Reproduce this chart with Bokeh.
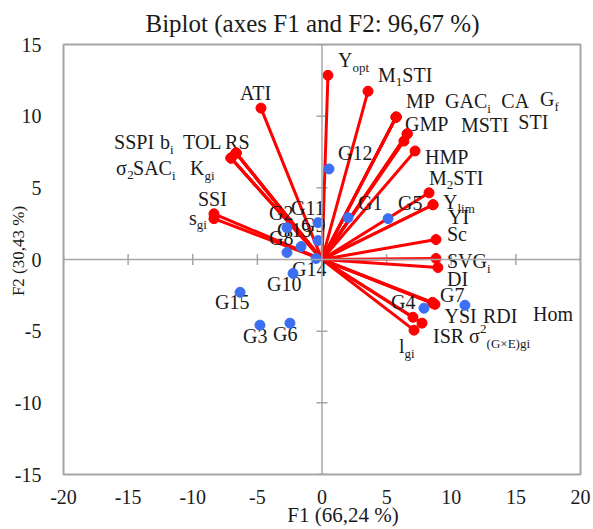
import math
from bokeh.plotting import figure
from bokeh.models import ColumnDataSource, Span, FixedTicker, CustomJSTickFormatter
from bokeh.core.properties import value
from bokeh.embed import file_html
from bokeh.resources import INLINE

FONT = "Liberation Serif"
TEXT_COLOR = "#1a1a1a"
RED = "#FF0000"
BLUE = "#3B6EF0"
GRAY = "#A6A6A6"

TITLE = "Biplot (axes F1 and F2: 96,67 %)"
X_LABEL = "F1 (66,24 %)"
Y_LABEL = "F2 (30,43 %)"
X_TICKS = [-20, -15, -10, -5, 0, 5, 10, 15, 20]
Y_TICKS = [-15, -10, -5, 0, 5, 10, 15]

# ---- variables (red vectors) ----
VAR_X = [0.46, 3.56, 5.73, 5.73, 5.75, 5.73, 6.58, 6.34, 6.60, 7.20, 8.28, 8.59, 8.59,
         8.82, 8.82, 8.97, 8.55, 8.74, 8.59, 7.74, 7.04, 7.12,
         -4.72, -6.65, -6.65, -6.65, -6.65, -7.04, -7.04, -7.04, -8.36, -8.36]
VAR_Y = [12.85, 11.74, 9.93, 9.93, 9.95, 9.93, 8.75, 8.26, 8.78, 7.57, 4.65, 3.82, 3.82,
         1.39, 0.07, -0.56, -2.99, -3.13, -3.06, -4.44, -4.03, -4.93,
         10.56, 7.43, 7.43, 7.43, 7.43, 7.08, 7.08, 7.08, 3.19, 2.85]
# label pieces: (text, kind) kind: "" normal, "sub", "sup"
VAR_LABELS = [
    [("Y", ""), ("opt", "sub")],
    [("M", ""), ("1", "sub"), ("STI", "")],
    [("MP", "")],
    [("GAC", ""), ("i", "sub")],
    [("CA", "")],
    [("G", ""), ("f", "sub")],
    [("GMP", "")],
    [("MSTI", "")],
    [("STI", "")],
    [("HMP", "")],
    [("M", ""), ("2", "sub"), ("STI", "")],
    [("Y", ""), ("lim", "sub")],
    [("YI", "")],
    [("Sc", "")],
    [("SVG", ""), ("i", "sub")],
    [("DI", "")],
    [("YSI", "")],
    [("RDI", "")],
    [("Hom", "")],
    [("ISR", "")],
    [("σ", ""), ("2", "sup"), ("(G×E)gi", "sub")],
    [("l", ""), ("gi", "sub")],
    [("ATI", "")],
    [("SSPI", "")],
    [("b", ""), ("i", "sub")],
    [("TOL", "")],
    [("RS", "")],
    [("σ", ""), ("2", "sub")],
    [("SAC", ""), ("i", "sub")],
    [("K", ""), ("gi", "sub")],
    [("SSI", "")],
    [("s", ""), ("gi", "sub")],
]
# label placement offsets in screen pixels relative to the point (layout only)
VAR_LABEL_OFFSETS = [
    (10, -15), (10, -16), (10, -16), (49, -16), (105, -16), (144, -18), (-2, -10),
    (57, -16), (111, -12), (10, 6), (0, -15), (10, -3), (15, 12), (11, -6), (11, 3),
    (9, 11), (12, 14), (48, 12), (100, 11), (11, 13), (56, 19), (-15, 16),
    (-21, -15), (-122, -11), (-76, -11), (-53, -11), (-11, -11), (-115, 10),
    (-98, 10), (-41, 10), (-16, -15), (-25, -1),
]

# ---- observations (blue points) ----
OBS_NAMES = ["G1", "G2", "G3", "G4", "G5", "G6", "G7", "G8", "G9", "G10",
             "G11", "G12", "G13", "G14", "G15"]
OBS_X = [2.01, -2.71, -4.80, 7.89, 5.11, -2.48, 11.06, -2.71, -0.31, -2.24,
         -0.31, 0.54, -1.62, -0.46, -6.34]
OBS_Y = [2.92, 2.22, -4.58, -3.40, 2.85, -4.44, -3.19, 0.49, 1.32, -0.97,
         2.57, 6.32, 0.90, 0.07, -2.29]
OBS_LABEL_OFFSETS = [
    (10, -15), (-18, -15), (-17, 11), (-33, -6), (10, -16), (-17, 11), (-25, -10),
    (-18, -14), (-17, -16), (-26, 11), (-27, -15), (9, -16), (-24, -17), (-24, 11),
    (-25, 10),
]

# Times-like advance widths (1/1000 em) for placing subscripts
W = {'A': 722, 'B': 667, 'C': 667, 'D': 722, 'E': 611, 'F': 556, 'G': 722, 'H': 722,
     'I': 333, 'K': 722, 'L': 611, 'M': 889, 'N': 722, 'O': 722, 'P': 556, 'R': 667,
     'S': 556, 'T': 611, 'V': 722, 'Y': 722, 'a': 444, 'b': 500, 'c': 444, 'd': 500,
     'e': 444, 'f': 333, 'g': 500, 'h': 500, 'i': 278, 'l': 278, 'm': 778, 'n': 500,
     'o': 500, 'p': 500, 'r': 333, 's': 389, 't': 278, ' ': 250, '(': 333, ')': 333,
     '×': 564, 'σ': 556}


def text_w(s, size):
    return sum(W.get(c, 500) for c in s) * size / 1000.0


BASE = 20
SMALL = 13

rows = dict(x=[], y=[], text=[], dx=[], dy=[], size=[])
for i, segs in enumerate(VAR_LABELS):
    dx0, dy0 = VAR_LABEL_OFFSETS[i]
    cx = dx0
    for t, kind in segs:
        sz = BASE if kind == "" else SMALL
        dy = dy0 + (0 if kind == "" else (7 if kind == "sub" else -7))
        rows["x"].append(VAR_X[i]); rows["y"].append(VAR_Y[i])
        rows["text"].append(t); rows["dx"].append(cx); rows["dy"].append(dy)
        rows["size"].append(f"{sz}px")
        cx += text_w(t, sz)
for i, name in enumerate(OBS_NAMES):
    dx0, dy0 = OBS_LABEL_OFFSETS[i]
    rows["x"].append(OBS_X[i]); rows["y"].append(OBS_Y[i])
    rows["text"].append(name); rows["dx"].append(dx0); rows["dy"].append(dy0)
    rows["size"].append(f"{BASE}px")
label_src = ColumnDataSource(rows)

var_src = ColumnDataSource(dict(x=VAR_X, y=VAR_Y, x0=[0] * len(VAR_X), y0=[0] * len(VAR_Y)))
obs_src = ColumnDataSource(dict(x=OBS_X, y=OBS_Y))

p = figure(width=593, height=529, x_range=(-20, 20), y_range=(-15, 15),
           output_backend="svg", toolbar_location=None,
           min_border_left=63, min_border_right=13, min_border_top=44, min_border_bottom=53)
p.title.text = TITLE
p.title.text_font = FONT
p.title.text_font_size = "25px"
p.title.text_font_style = "normal"
p.title.text_color = TEXT_COLOR
p.title.align = "left"
p.title.offset = 82
p.title.standoff = 15

p.xgrid.visible = False
p.ygrid.visible = False
p.outline_line_color = GRAY
p.outline_line_width = 2
p.background_fill_color = "white"
p.border_fill_color = "white"

for ax, ticks in ((p.xaxis[0], X_TICKS), (p.yaxis[0], Y_TICKS)):
    ax.ticker = FixedTicker(ticks=ticks)
    ax.formatter = CustomJSTickFormatter(code="return tick.toString();")
    ax.axis_line_color = None
    ax.major_tick_line_color = None
    ax.minor_tick_line_color = None
    ax.major_label_text_font = FONT
    ax.major_label_text_font_size = "20px"
    ax.major_label_text_color = TEXT_COLOR
    ax.axis_label_text_font = FONT
    ax.axis_label_text_font_style = "normal"
    ax.axis_label_text_color = TEXT_COLOR
p.xaxis.major_label_standoff = 9
p.yaxis.major_label_standoff = 16
# axis titles (leading spaces reproduce the off-centre placement of the original)
p.xaxis.axis_label = "\u2003\u2003" + X_LABEL
p.xaxis.axis_label_text_font_size = "21px"
p.xaxis.axis_label_standoff = -4
p.yaxis.axis_label = "\u2003" + Y_LABEL
p.yaxis.axis_label_text_font_size = "17px"
p.yaxis.axis_label_standoff = -16

p.add_layout(Span(location=0, dimension="height", line_color=GRAY, line_width=1.5))
p.add_layout(Span(location=0, dimension="width", line_color=GRAY, line_width=1.5))
p.scatter(x=X_TICKS, y=[0] * len(X_TICKS), marker="dash", angle=math.pi / 2, size=11,
          line_color=GRAY, line_width=1.5)
p.scatter(x=[0] * len(Y_TICKS), y=Y_TICKS, marker="dash", size=11,
          line_color=GRAY, line_width=1.5)

p.segment(x0="x0", y0="y0", x1="x", y1="y", source=var_src, line_color=RED, line_width=3)
p.text(x="x", y="y", text="text", x_offset="dx", y_offset="dy", text_font_size="size",
       source=label_src, text_font=value(FONT), text_color=TEXT_COLOR,
       text_align="left", text_baseline="middle")
p.scatter(x="x", y="y", source=var_src, size=10, fill_color=RED, line_color=RED)
p.scatter(x="x", y="y", source=obs_src, size=10, fill_color=BLUE, line_color=BLUE)

open("out.html", "w").write(file_html(p, INLINE))
